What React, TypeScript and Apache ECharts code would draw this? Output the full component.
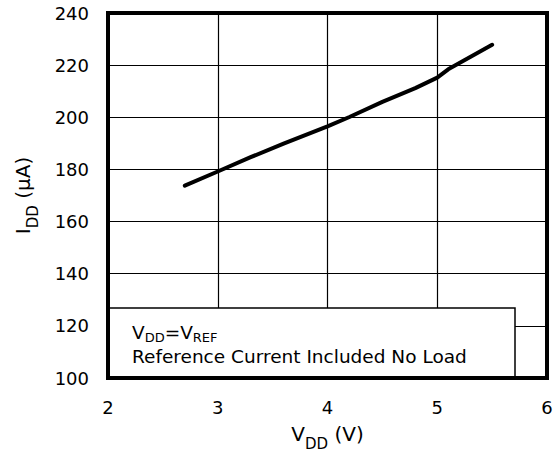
import React, { useEffect, useRef } from "react";
import * as echarts from "echarts";

const vdd = [2.7, 3.0, 3.3, 3.6, 4.0, 4.2, 4.5, 4.8, 5.0, 5.1, 5.3, 5.5];
const idd = [173.8, 179.2, 184.7, 189.9, 196.5, 200.1, 205.9, 211.2, 215.2, 218.4, 223.1, 227.8];
const xTicks = [2, 3, 4, 5, 6];
const yTicks = [100, 120, 140, 160, 180, 200, 220, 240];

const FONT = "DejaVu Sans";

export default function App() {
  const ref = useRef<HTMLDivElement>(null);
  useEffect(() => {
    if (!ref.current) return;
    const chart = echarts.init(ref.current, null, { renderer: "svg" });
    const gridL = 108, gridR = 9, gridT = 13, gridB = 74;
    const nameRich = {
      m: { fontFamily: FONT, fontSize: 20, color: "#000", lineHeight: 24 },
      s: { fontFamily: FONT, fontSize: 15, color: "#000", lineHeight: 14, verticalAlign: "bottom", padding: [0, 0, -5, 0] },
    };
    chart.setOption({
      animation: false,
      backgroundColor: "#fff",
      grid: {
        left: gridL, right: gridR, top: gridT, bottom: gridB,
        outerBoundsMode: "none", containLabel: false,
        show: true, borderColor: "#000", borderWidth: 4, backgroundColor: "transparent", z: 10,
      },
      xAxis: {
        type: "value",
        min: xTicks[0],
        max: xTicks[xTicks.length - 1],
        interval: 1,
        name: "{m|V}{s|DD}{m| (V)}",
        nameLocation: "middle",
        nameGap: 44,
        nameTextStyle: { rich: nameRich },
        axisLine: { show: false },
        axisTick: { show: false },
        axisLabel: { fontFamily: FONT, fontSize: 18, color: "#000", margin: 20 },
        splitLine: { show: true, lineStyle: { color: "#000", width: 1.2 } },
      },
      yAxis: {
        type: "value",
        min: yTicks[0],
        max: yTicks[yTicks.length - 1],
        interval: 20,
        name: "{m|I}{s|DD}{m| (µA)}",
        nameLocation: "middle",
        nameGap: 73,
        nameRotate: 90,
        nameTextStyle: { rich: nameRich },
        axisLine: { show: false },
        axisTick: { show: false },
        axisLabel: { fontFamily: FONT, fontSize: 18, color: "#000", margin: 19 },
        splitLine: { show: true, lineStyle: { color: "#000", width: 1.2 } },
      },
      series: [
        {
          type: "line",
          data: vdd.map((v, i) => [v, idd[i]]),
          showSymbol: false,
          symbol: "none",
          lineStyle: { color: "#000", width: 4, cap: "round", join: "round" },
          z: 3,
        },
      ],
      graphic: [
        {
          type: "rect",
          shape: { x: gridL, y: 308, width: 515 - gridL, height: 452 - gridB - 308 },
          style: { fill: "#fff", stroke: "#000", lineWidth: 1.5 },
          z: 5,
        },
        {
          type: "text",
          x: 132,
          y: 320,
          style: {
            text: "{m|V}{s|DD}{m|=V}{s|REF}\n{m|Reference Current Included No Load}",
            rich: {
              m: { fontFamily: FONT, fontSize: 18.5, fill: "#000", lineHeight: 24 },
              s: { fontFamily: FONT, fontSize: 13, fill: "#000", lineHeight: 16, verticalAlign: "bottom" },
            },
          },
          z: 6,
        },
      ],
    });
    return () => chart.dispose();
  }, []);
  return <div ref={ref} style={{ position: "fixed", left: 0, top: 0, width: 556, height: 452 }} />;
}
